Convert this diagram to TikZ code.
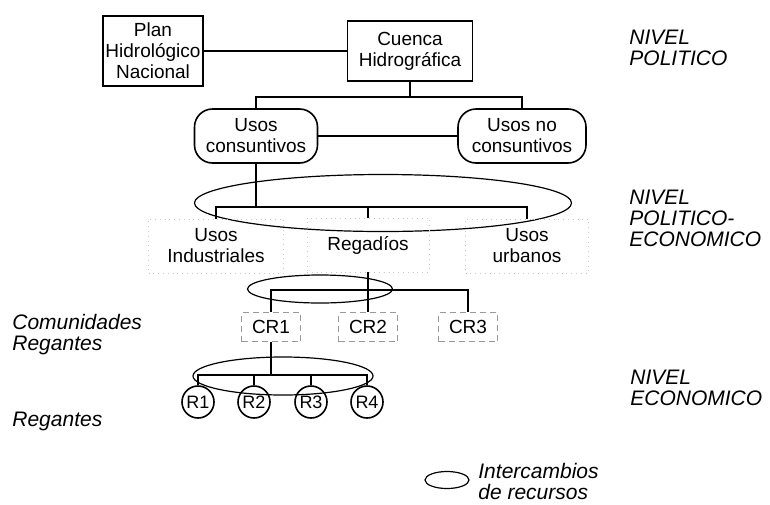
\documentclass[tikz,border=0pt]{standalone}
\usepackage{fontspec}
\setmainfont{Liberation Sans}
\usetikzlibrary{shapes.geometric}
\begin{document}
\begin{tikzpicture}[x=0.5pt, y=-0.5pt,
    every node/.style = {align=center, font=\fontsize{9.5}{10.5}\selectfont},
    caja/.style = {shape=rectangle, draw, thick, inner sep=0pt},
    redondo/.style = {shape=rectangle, draw, thick, rounded corners=9pt,
      minimum width=61.5pt, minimum height=27pt, inner sep=0pt},
    uso/.style = {shape=rectangle, draw=gray!45, dotted, minimum height=27pt, inner sep=0pt},
    comunidad/.style = {shape=rectangle, draw=gray!80, densely dashed,
      minimum width=29.5pt, minimum height=14.5pt, inner sep=0pt},
    regante/.style = {shape=circle, draw, thick, minimum size=16pt, inner sep=0pt,
      font=\fontsize{9}{10}\selectfont},
    intercambio/.style = {shape=ellipse, draw, semithick, inner sep=0pt},
    nivel/.style = {align=left, anchor=north west, inner sep=0pt,
      font=\fontsize{10.5}{10.5}\selectfont\itshape}]
  \useasboundingbox (0,0) rectangle (770,504);

  \node[caja, minimum width=50pt, minimum height=35pt] (plan) at (153,51) {Plan\\ Hidrológico\\ Nacional};
  \node[caja, minimum width=62.5pt, minimum height=30pt] (cuenca) at (410,51) {Cuenca\\ Hidrográfica};
  \node[redondo] (consuntivos) at (256,136) {Usos\\ consuntivos};
  \node[redondo, minimum width=64pt] (noconsuntivos) at (522,136) {Usos no\\ consuntivos};

  \node[intercambio, minimum width=188.5pt, minimum height=28.5pt] (int1) at (383,203) {};
  \node[uso, minimum width=67.5pt] (industriales) at (216,246) {Usos\\ Industriales};
  \node[uso, minimum width=61pt] (regadios) at (368,245) {Regadíos};
  \node[uso, minimum width=61.5pt] (urbanos) at (527,246) {Usos\\ urbanos};

  \node[intercambio, minimum width=72.5pt, minimum height=14pt] (int2) at (320,289) {};
  \node[comunidad] (cr1) at (271,327) {CR1};
  \node[comunidad] (cr2) at (368,327) {CR2};
  \node[comunidad] (cr3) at (468,327) {CR3};

  \node[intercambio, minimum width=90pt, minimum height=19pt] (int3) at (283,376) {};
  \node[regante] (r1) at (198,402) {R1};
  \node[regante] (r2) at (254,402) {R2};
  \node[regante] (r3) at (311,402) {R3};
  \node[regante] (r4) at (367,402) {R4};

  \coordinate (b1) at (410,97);
  \coordinate (b2) at (256,207);
  \coordinate (b3) at (368,290);
  \coordinate (b4) at (271,375);

  \draw[thick] (plan) -- (cuenca);
  \draw[thick] (cuenca) -- (b1);
  \draw[thick] (consuntivos.north) |- (b1) -| (noconsuntivos.north);
  \draw[thick] (consuntivos) -- (noconsuntivos);
  \draw[thick] (consuntivos) -- (b2);
  \draw[thick] (industriales.north) |- (b2) -| (urbanos.north);
  \draw[thick] (regadios.north) -- (regadios.north |- b2);
  \draw[thick] (regadios) -- (cr2);
  \draw[thick] (cr1.north) |- (b3) -| (cr3.north);
  \draw[thick] (cr1) -- (b4);
  \draw[thick] (r1.north) |- (b4) -| (r4.north);
  \draw[thick] (r2.north) -- (r2.north |- b4);
  \draw[thick] (r3.north) -- (r3.north |- b4);

  % niveles
  \node[nivel] (politico) at (629,30) {NIVEL\\ POLITICO};
  \node[nivel] (politicoeco) at (629,190) {NIVEL\\ POLITICO-\\ ECONOMICO};
  \node[nivel] (economico) at (630,370) {NIVEL\\ ECONOMICO};
  \node[nivel] (comunidades) at (12,314) {Comunidades\\ Regantes};
  \node[nivel] (regantes) at (12,412) {Regantes};

  % leyenda
  \node[intercambio, minimum width=22pt, minimum height=8.5pt] (leyenda) at (447,480) {};
  \node[nivel] (leyendatxt) at (478,463) {Intercambios\\ de recursos};
\end{tikzpicture}
\end{document}
